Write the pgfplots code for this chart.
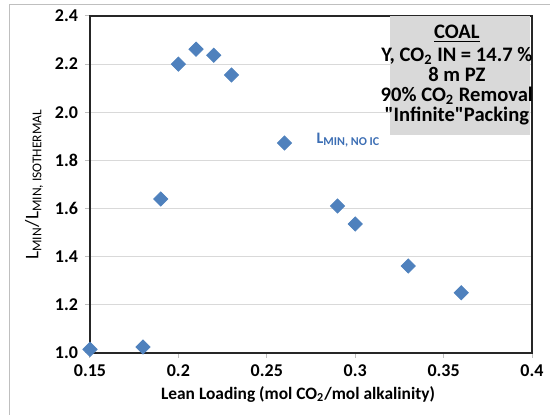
\documentclass[border=0pt]{standalone}
\usepackage{pgfplots}
\pgfplotsset{compat=1.18}
\usepackage{fontspec}
\setmainfont{Carlito}[Ligatures=TeXOff]
\definecolor{mk}{HTML}{4F81BD}
\definecolor{lbl}{HTML}{3C6EB4}
\definecolor{grd}{HTML}{D9D9D9}
\definecolor{boxc}{HTML}{D9D9D9}
\definecolor{frame}{HTML}{BFBFBF}

\pgfplotstableread{
x y
0.15 1.015
0.18 1.025
0.19 1.640
0.20 2.200
0.21 2.262
0.22 2.237
0.23 2.155
0.26 1.872
0.29 1.611
0.30 1.536
0.33 1.361
0.36 1.250
}\lmin

\begin{document}
\begin{tikzpicture}
\begin{axis}[
  name=ax,
  scale only axis,
  width=221pt, height=168.5pt,
  xmin=0.15, xmax=0.4, ymin=1, ymax=2.4,
  xtick={0.15,0.2,0.25,0.3,0.35,0.4},
  ytick={1,1.2,1.4,1.6,1.8,2.0,2.2,2.4},
  ymajorgrids,
  grid style={grd, line width=0.6pt},
  axis line style={line width=0.9pt, black!85},
  tick pos=left,
  tick align=outside,
  major tick length=2.5pt,
  tick style={frame, line width=0.5pt},
  /pgf/number format/assume math mode=true,
  ticklabel style={font=\fontsize{9}{10}\selectfont\bfseries},
  y tick label style={/pgf/number format/.cd, fixed, fixed zerofill, precision=1},
  x tick label style={/pgf/number format/.cd, fixed, precision=2},
  xlabel={Lean Loading (mol CO\textsubscript{2}/mol alkalinity)},
  ylabel={L\textsubscript{MIN}/L\textsubscript{MIN, ISOTHERMAL}},
  xlabel style={font=\fontsize{8.7}{10}\selectfont\bfseries, yshift=2pt, xshift=-6.5pt},
  ylabel style={font=\fontsize{9.6}{10}\selectfont, yshift=-1pt},
  clip=false,
]
\fill[boxc] (axis cs:0.3197,1.906) rectangle (axis cs:0.3987,2.4);
\node[align=center, inner sep=0pt, font=\fontsize{10.3}{10}\selectfont\bfseries, anchor=center]
  at (axis cs:0.3575,2.155)
  {\underline{COAL}\\[1.5pt]Y, CO\textsubscript{2} IN = 14.7 \%\\8 m PZ\\90\% CO\textsubscript{2} Removal\\"Infinite"Packing};
\addplot[only marks, mark=square*, mark size=2.5pt, mark options={rotate=45}, color=mk] table[x=x,y=y] {\lmin};
\node[lbl, anchor=base west, inner sep=0pt, font=\fontsize{8}{9}\selectfont\bfseries]
  at (axis cs:0.278,1.872) {L\textsubscript{MIN, NO IC}};
\end{axis}
\draw[frame, line width=0.5pt] ([xshift=-40pt,yshift=-40pt]ax.south west) -- ([xshift=-40pt,yshift=5.5pt]ax.north west) -- ([xshift=20pt,yshift=5.5pt]ax.north east);
\pgfresetboundingbox
\path[use as bounding box] ([xshift=-45pt,yshift=-31pt]ax.south west) rectangle ([xshift=9pt,yshift=8pt]ax.north east);
\end{tikzpicture}
\end{document}
